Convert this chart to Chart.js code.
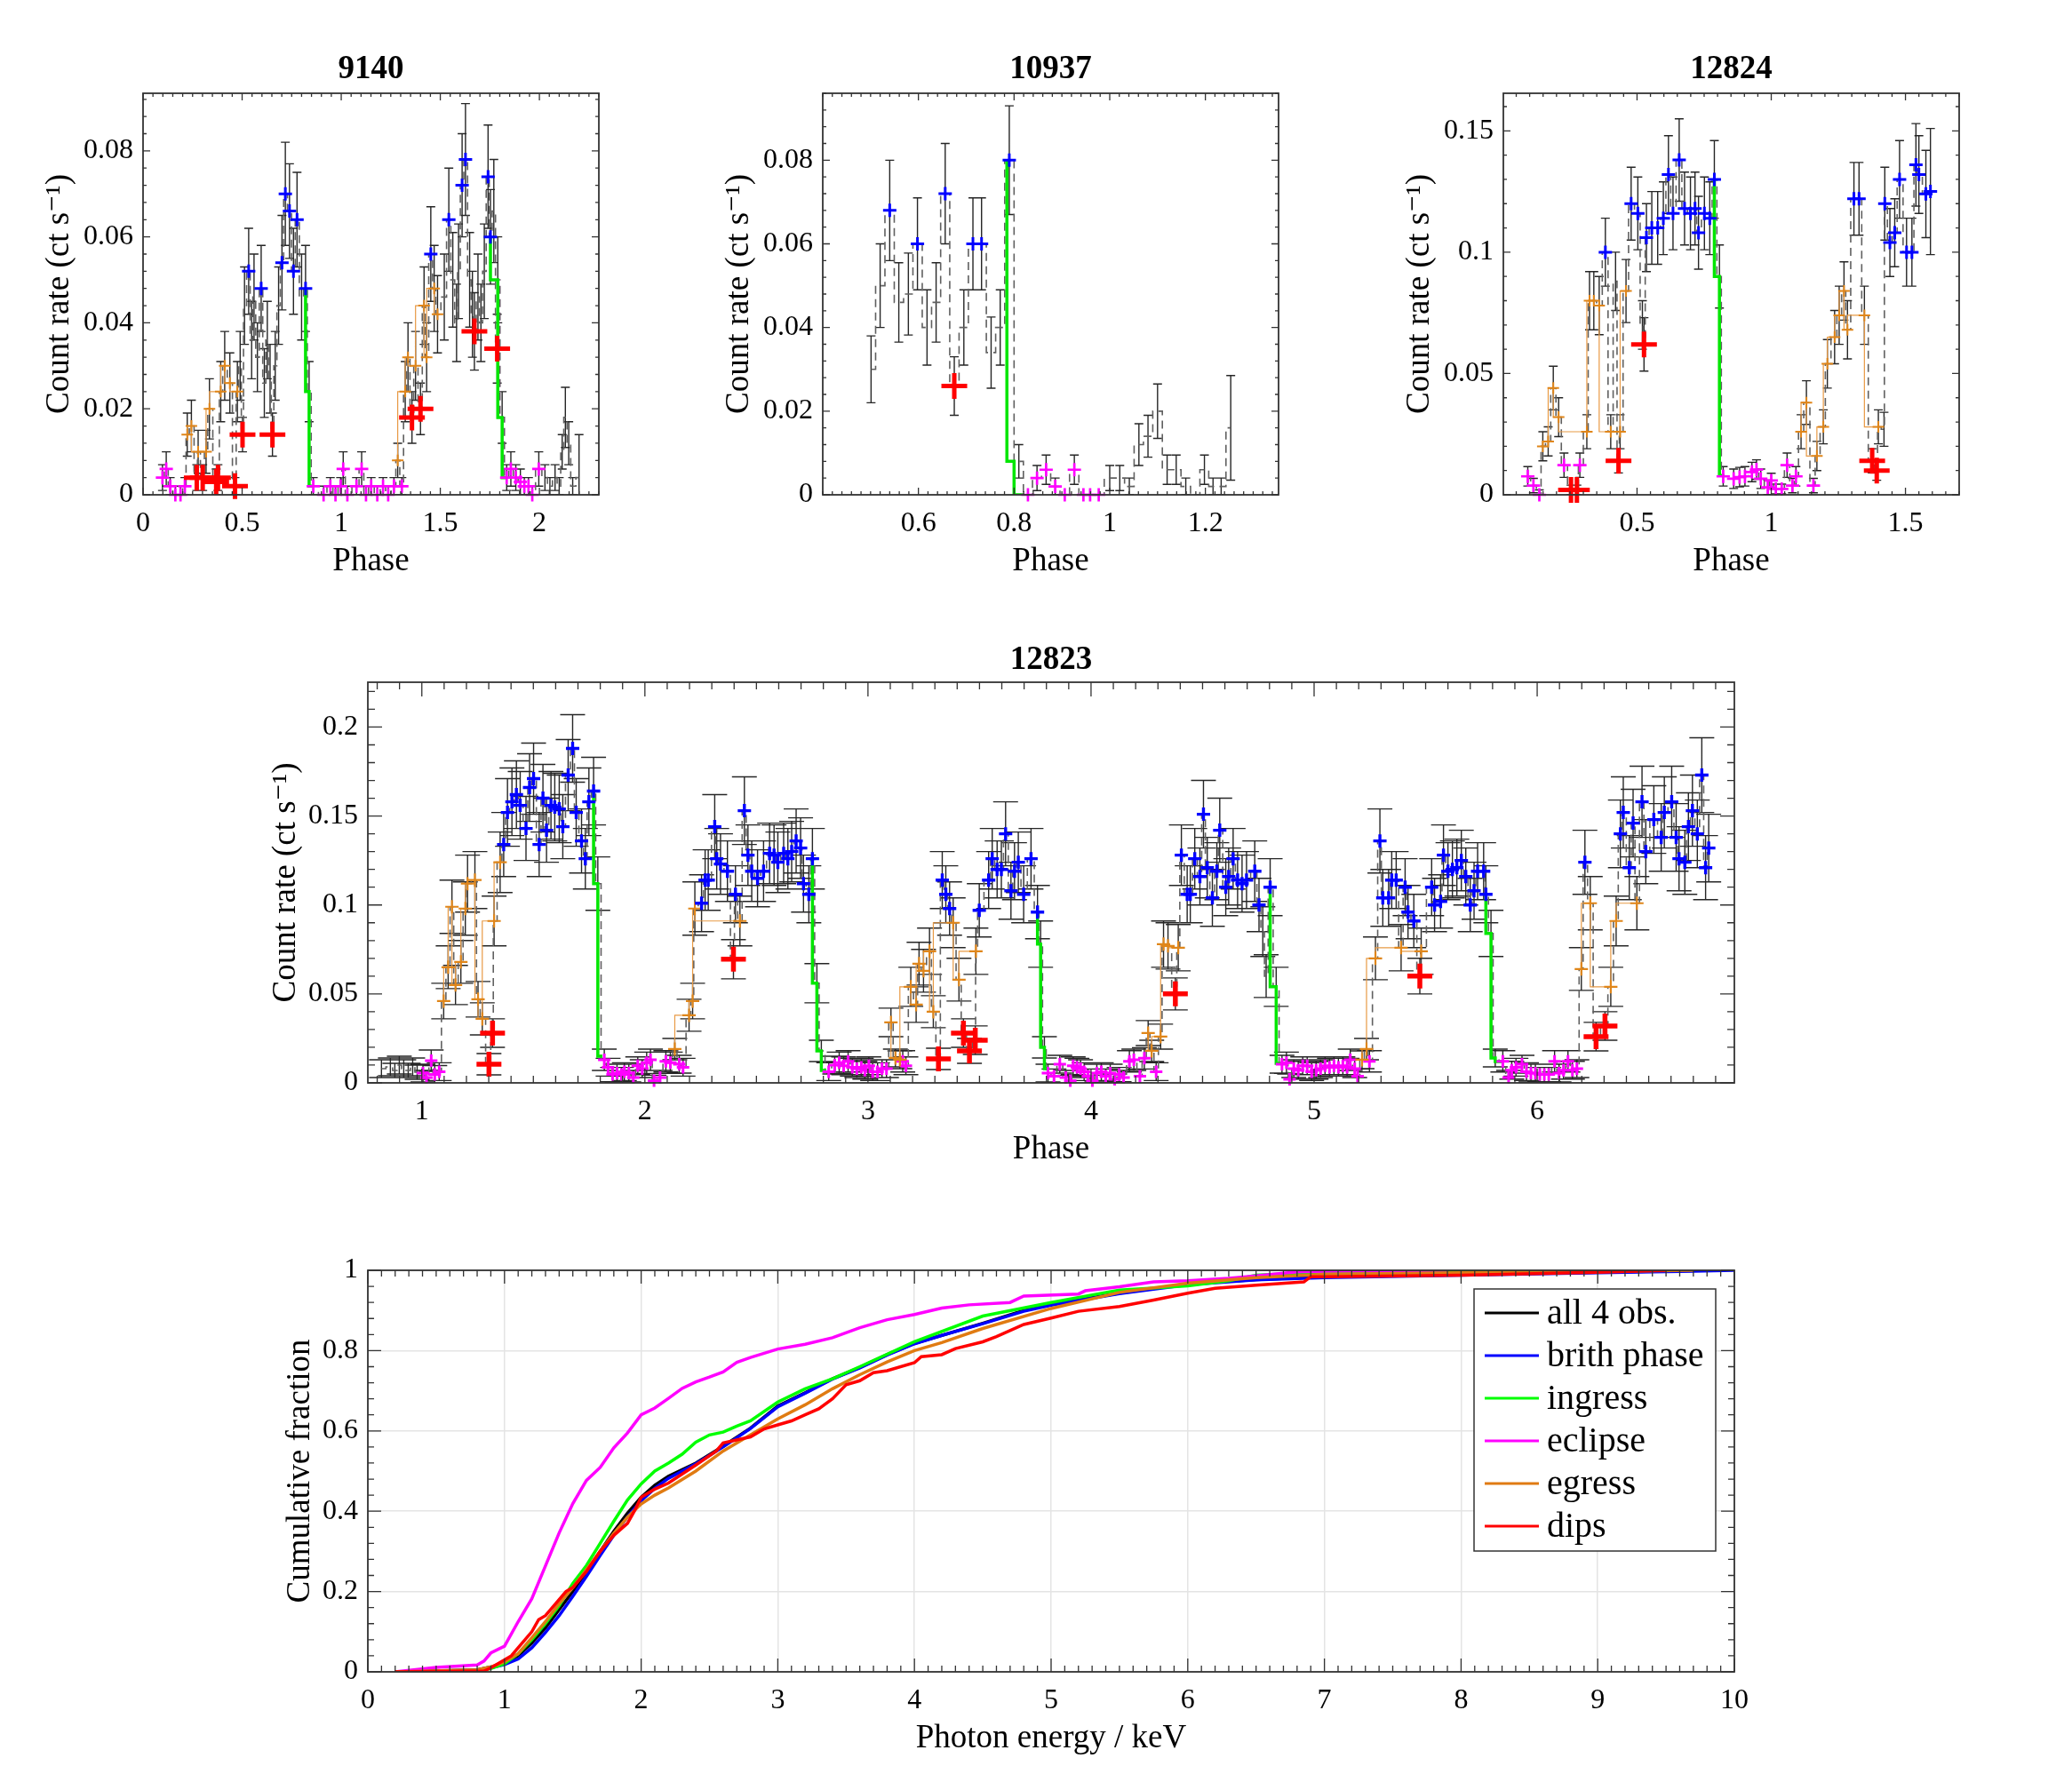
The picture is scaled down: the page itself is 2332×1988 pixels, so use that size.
<!DOCTYPE html>
<html>
<head>
<meta charset="utf-8">
<script src="https://cdn.jsdelivr.net/npm/chart.js@4.4.1/dist/chart.umd.min.js"></script>
<style>
  html, body { margin: 0; padding: 0; background: #fff; }
  body { width: 2332px; height: 1988px; position: relative; overflow: hidden; }
  canvas { position: absolute; }
</style>
</head>
<body>
<canvas id="c9140"></canvas>
<canvas id="c10937"></canvas>
<canvas id="c12824"></canvas>
<canvas id="c12823"></canvas>
<canvas id="cCdf"></canvas>
<script>
/* ---- obs 9140 ---- */
const p1XTicks = [0, 0.5, 1, 1.5, 2];
const p1YTicks = [0, 0.02, 0.04, 0.06, 0.08];
const p1BrightX = [0.533, 0.596, 0.701, 0.718, 0.739, 0.759, 0.777, 0.820, 1.452, 1.543, 1.610, 1.627, 1.741, 1.753];
const p1BrightY = [0.052, 0.048, 0.054, 0.070, 0.066, 0.052, 0.064, 0.048, 0.056, 0.064, 0.072, 0.078, 0.074, 0.060];
const p1BrightE = [0.010, 0.010, 0.011, 0.012, 0.011, 0.010, 0.011, 0.010, 0.011, 0.012, 0.012, 0.013, 0.012, 0.011];
const p1EgressX = [0.223, 0.244, 0.278, 0.318, 0.335, 0.392, 0.412, 0.438, 0.476, 1.285, 1.323, 1.337, 1.375, 1.418, 1.431, 1.469, 1.486];
const p1EgressY = [0.014, 0.016, 0.010, 0.010, 0.020, 0.024, 0.030, 0.026, 0.024, 0.008, 0.024, 0.032, 0.030, 0.044, 0.032, 0.048, 0.042];
const p1EgressE = [0.005, 0.006, 0.005, 0.005, 0.007, 0.007, 0.008, 0.007, 0.007, 0.004, 0.007, 0.008, 0.008, 0.009, 0.008, 0.010, 0.009];
const p1DipX = [0.271, 0.301, 0.369, 0.378, 0.464, 0.502, 0.653, 1.357, 1.400, 1.672, 1.787];
const p1DipY = [0.004, 0.004, 0.003, 0.004, 0.002, 0.014, 0.014, 0.018, 0.020, 0.038, 0.034];
const p1DipE = [0.003, 0.003, 0.003, 0.003, 0.002, 0.004, 0.005, 0.006, 0.006, 0.009, 0.008];
const p1EclX = [0.098, 0.117, 0.137, 0.163, 0.189, 0.211, 0.859, 0.911, 0.945, 0.971, 0.997, 1.010, 1.031, 1.077, 1.103, 1.125, 1.151, 1.182, 1.211, 1.237, 1.266, 1.306, 1.835, 1.856, 1.881, 1.904, 1.924, 1.945, 1.964, 1.997];
const p1EclY = [0.004, 0.006, 0.002, 0.000, 0.000, 0.002, 0.002, 0.000, 0.002, 0.000, 0.002, 0.006, 0.000, 0.002, 0.006, 0.000, 0.002, 0.000, 0.002, 0.000, 0.002, 0.002, 0.004, 0.006, 0.004, 0.003, 0.002, 0.002, 0.000, 0.006];
const p1EclE = [0.003, 0.004, 0.002, 0.002, 0.002, 0.002, 0.002, 0.002, 0.002, 0.002, 0.002, 0.004, 0.002, 0.002, 0.004, 0.002, 0.002, 0.002, 0.002, 0.002, 0.002, 0.002, 0.003, 0.004, 0.003, 0.003, 0.002, 0.002, 0.002, 0.004];
const p1OtherX = [0.490, 0.512, 0.548, 0.560, 0.577, 0.612, 0.627, 0.641, 0.667, 0.684, 0.800, 0.838, 1.520, 1.563, 1.582, 1.592, 1.648, 1.662, 1.690, 1.705, 1.722, 1.770, 1.790, 1.812, 2.028, 2.053, 2.079, 2.100, 2.115, 2.131, 2.148, 2.168, 2.200];
const p1OtherY = [0.030, 0.044, 0.036, 0.046, 0.032, 0.026, 0.036, 0.027, 0.030, 0.044, 0.046, 0.024, 0.046, 0.050, 0.040, 0.052, 0.050, 0.042, 0.046, 0.040, 0.052, 0.066, 0.050, 0.018, 0.004, 0.002, 0.004, 0.002, 0.010, 0.018, 0.012, 0.002, 0.004];
const p1OtherE = [0.008, 0.009, 0.009, 0.010, 0.008, 0.008, 0.009, 0.008, 0.008, 0.009, 0.010, 0.007, 0.010, 0.011, 0.009, 0.011, 0.011, 0.010, 0.010, 0.009, 0.011, 0.012, 0.010, 0.006, 0.003, 0.002, 0.003, 0.002, 0.004, 0.007, 0.005, 0.002, 0.010];
const p1IngX = [0.820, 0.838, 0.859, 1.753, 1.790, 1.812, 1.835];
const p1IngY = [0.048, 0.024, 0.002, 0.060, 0.050, 0.018, 0.004];

/* ---- obs 10937 ---- */
const p2XTicks = [0.6, 0.8, 1, 1.2];
const p2YTicks = [0, 0.02, 0.04, 0.06, 0.08];
const p2BrightX = [0.540, 0.598, 0.656, 0.714, 0.732, 0.790];
const p2BrightY = [0.068, 0.060, 0.072, 0.060, 0.060, 0.080];
const p2BrightE = [0.012, 0.011, 0.012, 0.011, 0.011, 0.013];
const p2DipX = [0.675];
const p2DipY = [0.026];
const p2DipE = [0.007];
const p2EclX = [0.829, 0.848, 0.867, 0.886, 0.906, 0.926, 0.945, 0.959, 0.977];
const p2EclY = [0.000, 0.004, 0.006, 0.002, 0.000, 0.006, 0.000, 0.000, 0.000];
const p2EclE = [0.000, 0.003, 0.0035, 0.002, 0.000, 0.0035, 0.000, 0.000, 0.000];
const p2OtherX = [0.501, 0.520, 0.559, 0.579, 0.618, 0.637, 0.695, 0.752, 0.771, 0.810, 1.000, 1.021, 1.041, 1.061, 1.080, 1.100, 1.120, 1.139, 1.159, 1.179, 1.198, 1.216, 1.233, 1.253];
const p2OtherY = [0.030, 0.050, 0.046, 0.048, 0.040, 0.046, 0.040, 0.034, 0.040, 0.008, 0.004, 0.004, 0.002, 0.012, 0.014, 0.020, 0.006, 0.006, 0.002, 0.000, 0.006, 0.002, 0.002, 0.016];
const p2OtherE = [0.008, 0.010, 0.0095, 0.0098, 0.009, 0.0095, 0.009, 0.0085, 0.009, 0.004, 0.003, 0.003, 0.002, 0.005, 0.005, 0.0065, 0.0035, 0.0035, 0.002, 0.000, 0.0035, 0.002, 0.002, 0.0125];
const p2IngX = [0.785, 0.800, 0.821];
const p2IngY = [0.080, 0.008, 0.000];

/* ---- obs 12824 ---- */
const p3XTicks = [0.5, 1, 1.5];
const p3YTicks = [0, 0.05, 0.1, 0.15];
const p3BrightX = [0.382, 0.478, 0.503, 0.535, 0.555, 0.577, 0.598, 0.617, 0.634, 0.657, 0.677, 0.699, 0.716, 0.729, 0.751, 0.771, 0.788, 1.308, 1.327, 1.423, 1.442, 1.460, 1.478, 1.504, 1.524, 1.539, 1.550, 1.576, 1.593];
const p3BrightY = [0.100, 0.120, 0.116, 0.106, 0.110, 0.110, 0.114, 0.132, 0.116, 0.138, 0.118, 0.116, 0.118, 0.108, 0.116, 0.114, 0.130, 0.122, 0.122, 0.120, 0.104, 0.108, 0.130, 0.100, 0.100, 0.136, 0.132, 0.124, 0.125];
const p3BrightE = [0.014, 0.015, 0.015, 0.014, 0.015, 0.015, 0.015, 0.016, 0.015, 0.017, 0.015, 0.015, 0.015, 0.015, 0.015, 0.015, 0.016, 0.015, 0.015, 0.015, 0.014, 0.014, 0.016, 0.014, 0.014, 0.017, 0.016, 0.018, 0.026];
const p3EgressX = [0.149, 0.169, 0.188, 0.208, 0.313, 0.323, 0.339, 0.359, 0.402, 0.437, 0.459, 1.111, 1.131, 1.170, 1.194, 1.209, 1.236, 1.253, 1.271, 1.284, 1.347, 1.399];
const p3EgressY = [0.020, 0.022, 0.044, 0.032, 0.026, 0.080, 0.080, 0.078, 0.026, 0.026, 0.084, 0.026, 0.038, 0.016, 0.028, 0.054, 0.065, 0.074, 0.084, 0.068, 0.074, 0.028];
const p3EgressE = [0.006, 0.006, 0.009, 0.008, 0.007, 0.012, 0.012, 0.012, 0.007, 0.007, 0.013, 0.007, 0.009, 0.006, 0.007, 0.010, 0.011, 0.012, 0.012, 0.012, 0.012, 0.007];
const p3DipX = [0.254, 0.276, 0.431, 0.526, 1.376, 1.393];
const p3DipY = [0.002, 0.002, 0.014, 0.062, 0.014, 0.010];
const p3DipE = [0.002, 0.002, 0.005, 0.011, 0.005, 0.004];
const p3EclX = [0.093, 0.114, 0.136, 0.228, 0.287, 0.821, 0.860, 0.882, 0.902, 0.928, 0.945, 0.961, 0.987, 1.000, 1.017, 1.039, 1.059, 1.079, 1.092, 1.157];
const p3EclY = [0.0076, 0.0038, 0.0, 0.0122, 0.0122, 0.0076, 0.0066, 0.0073, 0.0076, 0.0094, 0.0104, 0.0066, 0.0031, 0.0059, 0.0024, 0.0024, 0.0122, 0.0038, 0.0076, 0.0038];
const p3EclE = [0.004, 0.003, 0.002, 0.005, 0.005, 0.004, 0.004, 0.004, 0.004, 0.004, 0.004, 0.004, 0.003, 0.003, 0.002, 0.002, 0.005, 0.003, 0.004, 0.003];
const p3OtherX = [0.420, 0.520, 0.807, 1.420];
const p3OtherY = [0.088, 0.070, 0.090, 0.027];
const p3OtherE = [0.012, 0.010, 0.013, 0.007];
const p3IngX = [0.788, 0.807, 0.826];
const p3IngY = [0.130, 0.090, 0.008];

/* ---- obs 12823 ---- */
const p4XTicks = [1, 2, 3, 4, 5, 6];
const p4YTicks = [0, 0.05, 0.1, 0.15, 0.2];
const p4BrightX = [1.367, 1.384, 1.404, 1.424, 1.441, 1.467, 1.483, 1.501, 1.526, 1.543, 1.559, 1.579, 1.596, 1.616, 1.632, 1.656, 1.676, 1.692, 1.716, 1.733, 1.749, 1.770,
  2.254, 2.270, 2.284, 2.313, 2.322, 2.339, 2.370, 2.406, 2.446, 2.462, 2.479, 2.505, 2.532, 2.559, 2.579, 2.596, 2.622, 2.641, 2.658, 2.678, 2.698, 2.711, 2.735, 2.751,
  3.333, 3.349, 3.366, 3.499, 3.541, 3.557, 3.579, 3.598, 3.617, 3.641, 3.657, 3.674, 3.698, 3.731, 3.760,
  4.405, 4.431, 4.445, 4.465, 4.488, 4.504, 4.521, 4.544, 4.564, 4.577, 4.604, 4.617, 4.637, 4.657, 4.677, 4.697, 4.734, 4.753, 4.803,
  5.295, 5.308, 5.334, 5.348, 5.368, 5.408, 5.421, 5.447, 5.527, 5.540, 5.567, 5.580, 5.600, 5.620, 5.640, 5.660, 5.680, 5.700, 5.717, 5.733, 5.760, 5.770,
  6.214, 6.373, 6.386, 6.413, 6.430, 6.470, 6.487, 6.523, 6.556, 6.570, 6.603, 6.623, 6.636, 6.662, 6.678, 6.696, 6.718, 6.738, 6.755, 6.769];
const p4BrightY = [0.134, 0.152, 0.158, 0.162, 0.156, 0.143, 0.166, 0.171, 0.134, 0.160, 0.142, 0.156, 0.155, 0.154, 0.144, 0.173, 0.188, 0.152, 0.136, 0.126, 0.158, 0.164,
  0.101, 0.114, 0.114, 0.144, 0.126, 0.123, 0.119, 0.106, 0.153, 0.128, 0.119, 0.115, 0.119, 0.129, 0.128, 0.124, 0.129, 0.126, 0.130, 0.136, 0.132, 0.112, 0.106, 0.126,
  0.114, 0.106, 0.098, 0.097, 0.114, 0.126, 0.120, 0.120, 0.140, 0.108, 0.119, 0.124, 0.106, 0.126, 0.096,
  0.128, 0.106, 0.106, 0.126, 0.116, 0.151, 0.121, 0.104, 0.119, 0.142, 0.110, 0.116, 0.126, 0.114, 0.112, 0.114, 0.119, 0.100, 0.110,
  0.136, 0.104, 0.104, 0.114, 0.114, 0.110, 0.096, 0.091, 0.110, 0.100, 0.102, 0.128, 0.119, 0.120, 0.121, 0.125, 0.116, 0.100, 0.108, 0.119, 0.119, 0.106,
  0.124, 0.140, 0.152, 0.121, 0.146, 0.158, 0.130, 0.148, 0.138, 0.152, 0.158, 0.138, 0.126, 0.124, 0.144, 0.153, 0.140, 0.173, 0.121, 0.132];
const p4BrightE = [0.018, 0.019, 0.019, 0.019, 0.019, 0.018, 0.019, 0.020, 0.018, 0.019, 0.018, 0.019, 0.019, 0.019, 0.018, 0.020, 0.019, 0.019, 0.018, 0.017, 0.019, 0.019,
  0.016, 0.017, 0.017, 0.018, 0.017, 0.017, 0.017, 0.016, 0.019, 0.017, 0.017, 0.016, 0.017, 0.017, 0.017, 0.017, 0.017, 0.017, 0.017, 0.018, 0.017, 0.016, 0.016, 0.017,
  0.016, 0.016, 0.015, 0.015, 0.016, 0.017, 0.016, 0.016, 0.018, 0.016, 0.016, 0.017, 0.016, 0.017, 0.015,
  0.017, 0.016, 0.016, 0.017, 0.016, 0.019, 0.017, 0.016, 0.016, 0.018, 0.016, 0.016, 0.017, 0.016, 0.016, 0.016, 0.017, 0.015, 0.016,
  0.018, 0.016, 0.016, 0.016, 0.016, 0.016, 0.015, 0.015, 0.016, 0.015, 0.015, 0.017, 0.016, 0.016, 0.016, 0.017, 0.016, 0.015, 0.016, 0.016, 0.016, 0.016,
  0.018, 0.019, 0.020, 0.018, 0.019, 0.020, 0.018, 0.019, 0.019, 0.020, 0.020, 0.019, 0.018, 0.018, 0.019, 0.020, 0.019, 0.021, 0.018, 0.019];
const p4EgressX = [1.098, 1.118, 1.135, 1.151, 1.175, 1.195, 1.205, 1.238, 1.252, 1.271, 1.324, 1.351,
  2.134, 2.198, 2.214, 2.224, 2.426,
  3.103, 3.123, 3.143, 3.192, 3.216, 3.229, 3.249, 3.276, 3.293, 3.382, 3.408, 3.484,
  4.256, 4.272, 4.312, 4.325, 4.345, 4.391,
  5.215, 5.235, 5.275, 5.390, 5.480,
  6.198, 6.238, 6.330, 6.354, 6.447];
const p4EgressY = [0.046, 0.065, 0.099, 0.055, 0.068, 0.098, 0.112, 0.114, 0.047, 0.036, 0.091, 0.124,
  0.019, 0.038, 0.046, 0.098, 0.091,
  0.034, 0.014, 0.013, 0.054, 0.044, 0.067, 0.063, 0.074, 0.040, 0.090, 0.058, 0.074,
  0.028, 0.018, 0.026, 0.078, 0.077, 0.076,
  0.013, 0.019, 0.070, 0.076, 0.074,
  0.064, 0.101, 0.054, 0.091, 0.101];
const p4EgressE = [0.010, 0.012, 0.015, 0.011, 0.012, 0.015, 0.016, 0.016, 0.010, 0.009, 0.014, 0.017,
  0.006, 0.009, 0.010, 0.015, 0.014,
  0.008, 0.005, 0.005, 0.011, 0.010, 0.012, 0.012, 0.013, 0.009, 0.014, 0.012, 0.013,
  0.007, 0.006, 0.007, 0.013, 0.013, 0.013,
  0.005, 0.006, 0.012, 0.013, 0.013,
  0.012, 0.015, 0.011, 0.014, 0.015];
const p4DipX = [1.301, 1.317, 2.397, 3.316, 3.428, 3.455, 3.481, 4.378, 5.474, 6.264, 6.304];
const p4DipY = [0.0105, 0.028, 0.0695, 0.0135, 0.028, 0.018, 0.024, 0.050, 0.060, 0.026, 0.032];
const p4DipE = [0.006, 0.008, 0.011, 0.006, 0.008, 0.007, 0.008, 0.009, 0.010, 0.008, 0.008];
const p4EclX = [1.005, 1.021, 1.042, 1.058, 1.078,
  1.818, 1.835, 1.855, 1.875, 1.895, 1.908, 1.928, 1.948, 1.968, 1.988, 2.008, 2.025, 2.041, 2.068, 2.094, 2.114, 2.154, 2.171,
  2.824, 2.851, 2.871, 2.891, 2.911, 2.930, 2.950, 2.970, 2.986, 3.004, 3.021, 3.043, 3.063, 3.083, 3.156, 3.170,
  3.807, 3.834, 3.860, 3.887, 3.907, 3.920, 3.937, 3.953, 3.969, 3.986, 4.006, 4.026, 4.046, 4.066, 4.086, 4.106, 4.126, 4.146, 4.172, 4.192, 4.219, 4.239, 4.292,
  4.856, 4.876, 4.890, 4.909, 4.929, 4.949, 4.969, 4.989, 5.009, 5.029, 5.049, 5.069, 5.089, 5.109, 5.129, 5.148, 5.162, 5.182, 5.195, 5.248,
  5.846, 5.872, 5.886, 5.905, 5.932, 5.952, 5.972, 5.992, 6.012, 6.032, 6.052, 6.078, 6.098, 6.118, 6.138, 6.158, 6.178];
const p4EclY = [0.0055, 0.003, 0.0125, 0.0047, 0.0063,
  0.013, 0.0088, 0.0047, 0.0055, 0.0047, 0.0063, 0.0055, 0.003, 0.0096, 0.008, 0.0113, 0.013, 0.0013, 0.003, 0.0121, 0.0113, 0.0105, 0.0088,
  0.0063, 0.010, 0.0113, 0.0096, 0.0121, 0.0088, 0.008, 0.0088, 0.0071, 0.0096, 0.0063, 0.0063, 0.008, 0.008, 0.0121, 0.0096,
  0.0055, 0.0038, 0.0105, 0.003, 0.0013, 0.0096, 0.0088, 0.008, 0.0063, 0.0038, 0.0013, 0.0055, 0.0063, 0.0038, 0.0055, 0.002, 0.0047, 0.003, 0.0121, 0.013, 0.0038, 0.0138, 0.0063,
  0.0105, 0.0113, 0.002, 0.008, 0.0071, 0.0096, 0.0096, 0.0063, 0.0071, 0.008, 0.0096, 0.0088, 0.0096, 0.0088, 0.0096, 0.0088, 0.013, 0.008, 0.0038, 0.0121,
  0.0121, 0.003, 0.0071, 0.0088, 0.0105, 0.0063, 0.0055, 0.0055, 0.0047, 0.0047, 0.0047, 0.0121, 0.0055, 0.0071, 0.0121, 0.0071, 0.008];
const p4EclE = [0.005, 0.004, 0.006, 0.005, 0.005,
  0.006, 0.005, 0.004, 0.005, 0.004, 0.005, 0.005, 0.004, 0.005, 0.005, 0.006, 0.006, 0.003, 0.004, 0.006, 0.006, 0.005, 0.005,
  0.005, 0.005, 0.006, 0.005, 0.006, 0.005, 0.005, 0.005, 0.005, 0.005, 0.005, 0.005, 0.005, 0.005, 0.006, 0.005,
  0.005, 0.004, 0.005, 0.004, 0.003, 0.005, 0.005, 0.005, 0.005, 0.004, 0.003, 0.005, 0.005, 0.004, 0.005, 0.003, 0.004, 0.004, 0.006, 0.006, 0.004, 0.006, 0.005,
  0.005, 0.006, 0.003, 0.005, 0.005, 0.005, 0.005, 0.005, 0.005, 0.005, 0.005, 0.005, 0.005, 0.005, 0.005, 0.005, 0.006, 0.005, 0.004, 0.006,
  0.006, 0.004, 0.005, 0.005, 0.005, 0.005, 0.005, 0.005, 0.004, 0.004, 0.004, 0.006, 0.005, 0.005, 0.006, 0.005, 0.005];
const p4OtherX = [0.819, 0.859, 0.879, 0.899, 0.919, 0.939, 0.959, 0.979, 1.789, 2.771, 2.791, 3.774, 3.791, 4.770, 4.785, 4.830, 5.793, 5.812];
const p4OtherY = [0.008, 0.009, 0.007, 0.010, 0.008, 0.007, 0.009, 0.006, 0.112, 0.056, 0.018, 0.078, 0.020, 0.085, 0.060, 0.054, 0.084, 0.014];
const p4OtherE = [0.005, 0.005, 0.004, 0.005, 0.005, 0.004, 0.005, 0.004, 0.015, 0.011, 0.006, 0.013, 0.006, 0.014, 0.012, 0.011, 0.013, 0.005];
const p4IngX = [1.770, 1.789, 1.809, 2.751, 2.771, 2.791, 2.813, 3.760, 3.774, 3.791, 3.807, 4.803, 4.830, 4.852, 5.770, 5.793, 5.812, 5.846];
const p4IngY = [0.164, 0.112, 0.015, 0.126, 0.056, 0.018, 0.007, 0.096, 0.078, 0.020, 0.008, 0.110, 0.054, 0.011, 0.106, 0.084, 0.014, 0.012];

/* ---- cumulative energy distributions ---- */
const cdfXTicks = [0, 1, 2, 3, 4, 5, 6, 7, 8, 9, 10];
const cdfYTicks = [0, 0.2, 0.4, 0.6, 0.8, 1];
const cdfLabels = ['all 4 obs.', 'brith phase', 'ingress', 'eclipse', 'egress', 'dips'];
const cdfAllX = [0.2, 0.8, 0.9, 1.0, 1.1, 1.2, 1.3, 1.4, 1.5, 1.6, 1.7, 1.8, 1.9, 2.0, 2.1, 2.2, 2.4, 2.6, 2.8, 3.0, 3.2, 3.4, 3.6, 3.8, 4.0, 4.2, 4.5, 4.8, 5.0, 5.5, 6.0, 6.5, 7.0, 8.0, 9.0, 9.8];
const cdfAllY = [0, 0.005, 0.012, 0.022, 0.04, 0.072, 0.11, 0.155, 0.2, 0.25, 0.3, 0.35, 0.395, 0.435, 0.465, 0.487, 0.52, 0.562, 0.607, 0.662, 0.695, 0.73, 0.758, 0.79, 0.818, 0.838, 0.868, 0.9, 0.915, 0.943, 0.966, 0.977, 0.984, 0.99, 0.995, 1.0];
const cdfBrightX = [0.2, 0.8, 0.9, 1.0, 1.1, 1.2, 1.3, 1.4, 1.5, 1.6, 1.7, 1.8, 1.9, 2.0, 2.1, 2.2, 2.4, 2.6, 2.8, 3.0, 3.2, 3.4, 3.6, 3.8, 4.0, 4.2, 4.5, 4.8, 5.0, 5.5, 6.0, 6.5, 7.0, 8.0, 9.0, 9.7, 10.0];
const cdfBrightY = [0, 0.004, 0.01, 0.018, 0.032, 0.06, 0.098, 0.14, 0.188, 0.238, 0.29, 0.34, 0.386, 0.426, 0.457, 0.482, 0.518, 0.56, 0.606, 0.66, 0.694, 0.729, 0.757, 0.789, 0.817, 0.838, 0.867, 0.898, 0.913, 0.942, 0.964, 0.976, 0.982, 0.988, 0.994, 0.998, 1.0];
const cdfIngressX = [0.2, 0.8, 0.9, 1.0, 1.1, 1.2, 1.3, 1.4, 1.5, 1.6, 1.7, 1.8, 1.9, 2.0, 2.1, 2.2, 2.3, 2.4, 2.5, 2.6, 2.7, 2.8, 3.0, 3.2, 3.4, 3.6, 4.0, 4.5, 5.0, 5.5, 6.0, 6.3, 6.5, 7.0, 8.0, 8.6];
const cdfIngressY = [0, 0.003, 0.008, 0.02, 0.045, 0.08, 0.12, 0.165, 0.22, 0.265, 0.32, 0.375, 0.428, 0.468, 0.5, 0.52, 0.542, 0.572, 0.59, 0.597, 0.612, 0.625, 0.672, 0.705, 0.73, 0.76, 0.822, 0.886, 0.92, 0.951, 0.961, 0.974, 0.988, 0.996, 0.999, 1.0];
const cdfEclipseX = [0.2, 0.5, 0.8, 0.85, 0.9, 1.0, 1.1, 1.2, 1.3, 1.4, 1.5, 1.6, 1.7, 1.8, 1.9, 2.0, 2.1, 2.2, 2.3, 2.4, 2.5, 2.6, 2.7, 2.8, 3.0, 3.2, 3.4, 3.6, 3.8, 4.0, 4.2, 4.4, 4.7, 4.8, 5.2, 5.25, 5.5, 5.75, 6.0, 6.3, 6.5, 6.8, 7.0, 7.9];
const cdfEclipseY = [0, 0.011, 0.017, 0.027, 0.047, 0.064, 0.125, 0.182, 0.264, 0.346, 0.419, 0.477, 0.509, 0.558, 0.595, 0.64, 0.657, 0.681, 0.706, 0.722, 0.734, 0.747, 0.771, 0.783, 0.804, 0.816, 0.832, 0.857, 0.877, 0.89, 0.906, 0.914, 0.92, 0.936, 0.941, 0.949, 0.959, 0.971, 0.974, 0.98, 0.986, 0.996, 0.998, 1.0];
const cdfEgressX = [0.2, 0.8, 0.9, 1.0, 1.1, 1.2, 1.3, 1.4, 1.5, 1.6, 1.7, 1.8, 1.9, 2.0, 2.1, 2.2, 2.4, 2.6, 2.8, 3.0, 3.2, 3.4, 3.6, 3.8, 4.0, 4.2, 4.5, 5.0, 5.5, 6.0, 6.5, 7.0, 8.0, 9.0, 9.7];
const cdfEgressY = [0, 0.005, 0.012, 0.025, 0.045, 0.085, 0.125, 0.17, 0.21, 0.255, 0.3, 0.345, 0.385, 0.418, 0.44, 0.458, 0.5, 0.55, 0.59, 0.63, 0.665, 0.705, 0.74, 0.772, 0.8, 0.82, 0.855, 0.905, 0.945, 0.968, 0.982, 0.99, 0.994, 0.997, 1.0];
const cdfDipsX = [0.2, 0.85, 0.9, 1.0, 1.05, 1.1, 1.2, 1.25, 1.3, 1.4, 1.45, 1.5, 1.6, 1.7, 1.8, 1.9, 1.95, 2.0, 2.1, 2.2, 2.4, 2.55, 2.6, 2.8, 2.9, 3.0, 3.1, 3.2, 3.3, 3.4, 3.5, 3.6, 3.7, 3.8, 4.0, 4.05, 4.2, 4.3, 4.5, 4.6, 4.8, 5.0, 5.2, 5.5, 5.75, 6.0, 6.2, 6.5, 6.85, 6.9, 7.0, 8.0, 9.0, 9.5];
const cdfDipsY = [0, 0.002, 0.01, 0.03, 0.04, 0.06, 0.1, 0.13, 0.14, 0.18, 0.2, 0.21, 0.25, 0.3, 0.34, 0.37, 0.4, 0.435, 0.455, 0.47, 0.515, 0.55, 0.57, 0.585, 0.605, 0.615, 0.625, 0.64, 0.655, 0.68, 0.715, 0.725, 0.745, 0.75, 0.77, 0.785, 0.79, 0.805, 0.822, 0.835, 0.865, 0.881, 0.898, 0.91, 0.926, 0.943, 0.955, 0.963, 0.971, 0.984, 0.984, 0.988, 0.995, 1.0];

/* ---- styling ---- */
const SERIF = "'Liberation Serif', 'Times New Roman', 'DejaVu Serif', serif";
const TICK_FONT = { family: SERIF, size: 32 };
const AXIS_FONT = { family: SERIF, size: 37 };
const AXIS_LH = 37 * 1.2;
const BLUE = '#0000ff', ORANGE = '#e0861a', GREEN = '#00e600', MAGENTA = '#ff00ff', RED = '#ff0000';

const pts = (xs, ys) => xs.map((x, i) => ({ x, y: ys[i] }));
const fmt = v => String(Math.round(v * 1e6) / 1e6);
const steps = (min, max, step) => {
  const out = [];
  for (let k = Math.ceil(min / step - 1e-9); k * step <= max + 1e-9; k++) out.push(k * step);
  return out;
};

// place the canvas so that the chart area lands on the target frame
function layoutFor(box, area, yTitleX, xTitleY) {
  const padLeft = yTitleX - AXIS_LH / 2 - 4 - box.x;
  const scaleBottom = xTitleY + AXIS_LH / 2 + 4;
  return {
    padding: { left: padLeft, right: box.x + box.w - area.r, top: area.t - box.y, bottom: box.y + box.h - scaleBottom },
    yWidth: area.l - box.x - padLeft,
    xHeight: scaleBottom - area.b
  };
}

const deco = {
  id: 'deco',
  beforeDatasetsDraw(chart, args, o) {
    if (!o.bins) return;
    const { ctx, chartArea: a } = chart;
    const xs = chart.scales.x, ys = chart.scales.y;
    ctx.save();
    ctx.beginPath();
    ctx.rect(a.left, a.top - 2, a.right - a.left, a.bottom - a.top + 2);
    ctx.clip();
    ctx.strokeStyle = '#262626';
    ctx.lineWidth = 1.4;
    ctx.beginPath();
    o.bins.forEach(b => {
      if (b.e <= 0) return;
      const px = xs.getPixelForValue(b.x);
      const top = ys.getPixelForValue(b.y + b.e);
      const bot = ys.getPixelForValue(b.y - b.e);
      const h = o.cap / 2;
      ctx.moveTo(px, top); ctx.lineTo(px, bot);
      ctx.moveTo(px - h, top); ctx.lineTo(px + h, top);
      ctx.moveTo(px - h, bot); ctx.lineTo(px + h, bot);
    });
    ctx.stroke();
    ctx.restore();
  },
  afterDraw(chart, args, o) {
    const { ctx, chartArea: a } = chart;
    const xs = chart.scales.x, ys = chart.scales.y;
    ctx.save();
    ctx.strokeStyle = '#333';
    ctx.lineWidth = 1.3;
    ctx.beginPath();
    const xMark = (v, len) => {
      const p = xs.getPixelForValue(v);
      ctx.moveTo(p, a.bottom); ctx.lineTo(p, a.bottom - len);
      ctx.moveTo(p, a.top); ctx.lineTo(p, a.top + len);
    };
    const yMark = (v, len) => {
      const p = ys.getPixelForValue(v);
      ctx.moveTo(a.left, p); ctx.lineTo(a.left + len, p);
      ctx.moveTo(a.right, p); ctx.lineTo(a.right - len, p);
    };
    steps(xs.min, xs.max, o.xMinor).forEach(v => xMark(v, o.minor));
    steps(ys.min, ys.max, o.yMinor).forEach(v => yMark(v, o.minor));
    o.xTicks.forEach(v => xMark(v, o.major));
    o.yTicks.forEach(v => yMark(v, o.major));
    ctx.stroke();
    ctx.lineWidth = 1.8;
    ctx.strokeRect(a.left, a.top, a.right - a.left, a.bottom - a.top);

    ctx.fillStyle = '#000';
    if (o.title) {
      ctx.font = 'bold 37px ' + SERIF;
      ctx.textAlign = 'center';
      ctx.textBaseline = 'middle';
      ctx.fillText(o.title, (a.left + a.right) / 2, a.top - o.titleGap);
    }
    if (o.legend) {
      const L = o.legend;
      const x0 = a.right - L.fromRight, y0 = a.top + L.fromTop;
      ctx.fillStyle = '#fff';
      ctx.fillRect(x0, y0, L.w, L.h);
      ctx.strokeStyle = '#333';
      ctx.lineWidth = 1.5;
      ctx.strokeRect(x0, y0, L.w, L.h);
      ctx.font = '40px ' + SERIF;
      ctx.textAlign = 'left';
      ctx.textBaseline = 'middle';
      chart.data.datasets.forEach((d, i) => {
        const yy = y0 + L.first + i * L.row;
        ctx.strokeStyle = d.borderColor;
        ctx.lineWidth = 3;
        ctx.beginPath();
        ctx.moveTo(x0 + 12, yy); ctx.lineTo(x0 + 73, yy);
        ctx.stroke();
        ctx.fillStyle = '#000';
        ctx.fillText(d.label, x0 + 82, yy + 1);
      });
    }
    ctx.restore();
  }
};

function scales(p, L, grid) {
  return {
    x: {
      type: 'linear', min: p.xMin, max: p.xMax,
      afterBuildTicks: s => { s.ticks = p.xTicks.map(v => ({ value: v })); },
      afterFit: s => { s.height = L.xHeight; },
      ticks: { font: TICK_FONT, color: '#000', padding: 13, maxRotation: 0, autoSkip: false, callback: fmt },
      grid: grid ? { color: '#e4e4e4', lineWidth: 1.5, drawTicks: false } : { display: false, drawTicks: false },
      border: { display: false },
      title: { display: true, text: p.xTitle, font: AXIS_FONT, color: '#000', padding: { top: 4, bottom: 4 } }
    },
    y: {
      type: 'linear', min: p.yMin, max: p.yMax,
      afterBuildTicks: s => { s.ticks = p.yTicks.map(v => ({ value: v })); },
      afterFit: s => { s.width = L.yWidth; },
      ticks: { font: TICK_FONT, color: '#000', padding: 11, autoSkip: false, callback: fmt },
      grid: grid ? { color: '#e4e4e4', lineWidth: 1.5, drawTicks: false } : { display: false, drawTicks: false },
      border: { display: false },
      title: { display: true, text: p.yTitle, font: AXIS_FONT, color: '#000', padding: { top: 4, bottom: 4 } }
    }
  };
}

function setupCanvas(id, box) {
  const c = document.getElementById(id);
  c.width = box.w; c.height = box.h;
  c.style.left = box.x + 'px'; c.style.top = box.y + 'px';
  c.style.width = box.w + 'px'; c.style.height = box.h + 'px';
  return c;
}

function marker(label, xs, ys, color, m, order) {
  return {
    label, data: pts(xs, ys), showLine: false, pointStyle: 'cross',
    pointRadius: m[0], pointHoverRadius: m[0], pointBorderWidth: m[1], pointHoverBorderWidth: m[1],
    pointBorderColor: color, pointBackgroundColor: color, borderColor: color, clip: false, order
  };
}

function lightCurve(p) {
  const L = layoutFor(p.box, p.area, p.yTitleX, p.xTitleY);
  const bins = [];
  p.groups.forEach(([xs, ys, es]) => xs.forEach((x, i) => bins.push({ x, y: ys[i], e: es[i] })));
  bins.sort((a, b) => a.x - b.x);
  const m = p.marks;
  const datasets = [
    { label: 'all', data: bins.map(b => ({ x: b.x, y: b.y })), borderColor: '#606060', borderWidth: 1.6, borderDash: [9, 6], stepped: 'middle', pointRadius: 0, order: 10 },
    { label: 'egress line', data: pts(p.egX, p.egY), borderColor: '#e89a45', borderWidth: 1.2, stepped: 'after', spanGaps: 0.3, pointRadius: 0, order: 9 },
    { label: 'ingress', data: pts(p.inX, p.inY), borderColor: GREEN, borderWidth: 3.5, stepped: 'after', spanGaps: 0.3, pointRadius: 0, order: 8 },
    marker('eclipse', p.ecX, p.ecY, MAGENTA, m.ecl, 5),
    marker('egress', p.egX, p.egY, ORANGE, m.egr, 4),
    marker('bright', p.brX, p.brY, BLUE, m.bri, 3),
    marker('dips', p.dpX, p.dpY, RED, m.dip, 2)
  ];
  new Chart(setupCanvas(p.id, p.box), {
    type: 'line',
    data: { datasets },
    options: {
      responsive: false, animation: false, devicePixelRatio: 1, events: [],
      layout: { padding: L.padding },
      scales: scales(p, L, false),
      plugins: {
        legend: { display: false }, tooltip: { enabled: false },
        deco: { bins, cap: p.cap, xTicks: p.xTicks, yTicks: p.yTicks, xMinor: p.xMinor, yMinor: p.yMinor,
                major: p.major, minor: p.minor, title: p.title, titleGap: p.titleGap }
      }
    },
    plugins: [deco]
  });
}

const Y_TITLE = 'Count rate (ct s\u207B\u00B9)';
const TOP_MARKS = { bri: [7.5, 3], egr: [6.5, 2], ecl: [7.5, 2.7], dip: [14.5, 5] };

lightCurve({
  id: 'c9140', title: '9140', titleGap: 27,
  box: { x: 0, y: 40, w: 700, h: 640 }, area: { l: 161, t: 105, r: 674, b: 557 }, yTitleX: 67, xTitleY: 632,
  xMin: 0, xMax: 2.3, yMin: 0, yMax: 0.0934, xTicks: p1XTicks, yTicks: p1YTicks, xMinor: 0.05, yMinor: 0.004,
  xTitle: 'Phase', yTitle: Y_TITLE, major: 8, minor: 4, cap: 10, marks: TOP_MARKS,
  groups: [[p1BrightX, p1BrightY, p1BrightE], [p1EgressX, p1EgressY, p1EgressE], [p1DipX, p1DipY, p1DipE], [p1EclX, p1EclY, p1EclE], [p1OtherX, p1OtherY, p1OtherE]],
  brX: p1BrightX, brY: p1BrightY, egX: p1EgressX, egY: p1EgressY, dpX: p1DipX, dpY: p1DipY, ecX: p1EclX, ecY: p1EclY, inX: p1IngX, inY: p1IngY
});

lightCurve({
  id: 'c10937', title: '10937', titleGap: 27,
  box: { x: 760, y: 40, w: 700, h: 640 }, area: { l: 926, t: 105, r: 1439, b: 557 }, yTitleX: 832, xTitleY: 632,
  xMin: 0.4, xMax: 1.353, yMin: 0, yMax: 0.096, xTicks: p2XTicks, yTicks: p2YTicks, xMinor: 0.02, yMinor: 0.004,
  xTitle: 'Phase', yTitle: Y_TITLE, major: 8, minor: 4, cap: 10, marks: TOP_MARKS,
  groups: [[p2BrightX, p2BrightY, p2BrightE], [p2DipX, p2DipY, p2DipE], [p2EclX, p2EclY, p2EclE], [p2OtherX, p2OtherY, p2OtherE]],
  brX: p2BrightX, brY: p2BrightY, egX: [], egY: [], dpX: p2DipX, dpY: p2DipY, ecX: p2EclX, ecY: p2EclY, inX: p2IngX, inY: p2IngY
});

lightCurve({
  id: 'c12824', title: '12824', titleGap: 27,
  box: { x: 1520, y: 40, w: 720, h: 640 }, area: { l: 1692, t: 105, r: 2205, b: 557 }, yTitleX: 1598, xTitleY: 632,
  xMin: 0.002, xMax: 1.7, yMin: 0, yMax: 0.1655, xTicks: p3XTicks, yTicks: p3YTicks, xMinor: 0.05, yMinor: 0.01,
  xTitle: 'Phase', yTitle: Y_TITLE, major: 8, minor: 4, cap: 10, marks: TOP_MARKS,
  groups: [[p3BrightX, p3BrightY, p3BrightE], [p3EgressX, p3EgressY, p3EgressE], [p3DipX, p3DipY, p3DipE], [p3EclX, p3EclY, p3EclE], [p3OtherX, p3OtherY, p3OtherE]],
  brX: p3BrightX, brY: p3BrightY, egX: p3EgressX, egY: p3EgressY, dpX: p3DipX, dpY: p3DipY, ecX: p3EclX, ecY: p3EclY, inX: p3IngX, inY: p3IngY
});

lightCurve({
  id: 'c12823', title: '12823', titleGap: 25,
  box: { x: 250, y: 700, w: 1740, h: 640 }, area: { l: 414, t: 768, r: 1952, b: 1219 }, yTitleX: 322, xTitleY: 1294,
  xMin: 0.758, xMax: 6.884, yMin: 0, yMax: 0.2252, xTicks: p4XTicks, yTicks: p4YTicks, xMinor: 0.1, yMinor: 0.01,
  xTitle: 'Phase', yTitle: Y_TITLE, major: 16, minor: 8, cap: 28,
  marks: { bri: [7.5, 3.4], egr: [7.5, 2.2], ecl: [7, 3], dip: [14, 5.5] },
  groups: [[p4BrightX, p4BrightY, p4BrightE], [p4EgressX, p4EgressY, p4EgressE], [p4DipX, p4DipY, p4DipE], [p4EclX, p4EclY, p4EclE], [p4OtherX, p4OtherY, p4OtherE]],
  brX: p4BrightX, brY: p4BrightY, egX: p4EgressX, egY: p4EgressY, dpX: p4DipX, dpY: p4DipY, ecX: p4EclX, ecY: p4EclY, inX: p4IngX, inY: p4IngY
});

/* ---- cumulative fraction panel ---- */
(function () {
  const p = {
    box: { x: 250, y: 1380, w: 1740, h: 608 }, area: { l: 414, t: 1430, r: 1952, b: 1882 },
    xMin: 0, xMax: 10, yMin: 0, yMax: 1, xTicks: cdfXTicks, yTicks: cdfYTicks,
    xTitle: 'Photon energy / keV', yTitle: 'Cumulative fraction'
  };
  const L = layoutFor(p.box, p.area, 338, 1957);
  const curves = [
    [cdfAllX, cdfAllY, '#000000'],
    [cdfBrightX, cdfBrightY, BLUE],
    [cdfIngressX, cdfIngressY, '#00ff00'],
    [cdfEclipseX, cdfEclipseY, MAGENTA],
    [cdfEgressX, cdfEgressY, '#e07b12'],
    [cdfDipsX, cdfDipsY, RED]
  ];
  const datasets = curves.map(([xs, ys, c], i) => ({
    label: cdfLabels[i], data: pts(xs, ys), borderColor: c, backgroundColor: c,
    borderWidth: 3.5, pointRadius: 0, tension: 0, order: 6 - i
  }));
  new Chart(setupCanvas('cCdf', p.box), {
    type: 'line',
    data: { datasets },
    options: {
      responsive: false, animation: false, devicePixelRatio: 1, events: [],
      layout: { padding: L.padding },
      scales: scales(p, L, true),
      plugins: {
        legend: { display: false }, tooltip: { enabled: false },
        deco: { xTicks: cdfXTicks, yTicks: cdfYTicks, xMinor: 0.1, yMinor: 0.04, major: 15, minor: 7,
                legend: { fromRight: 293, fromTop: 21, w: 272, h: 295, first: 27, row: 48 } }
      }
    },
    plugins: [deco]
  });
})();
</script>
</body>
</html>
